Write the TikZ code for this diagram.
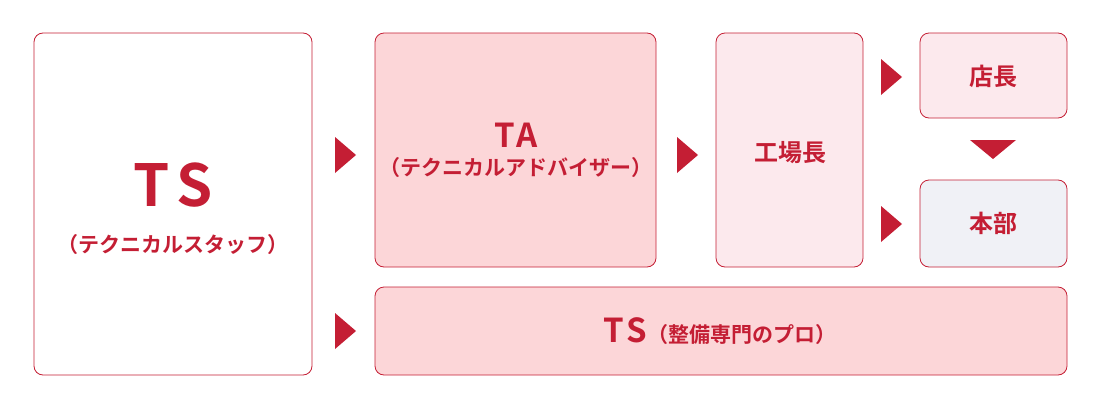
\documentclass[tikz,border=0pt]{standalone}
\usepackage{fontspec}
\newfontfamily\jpfont{Noto Sans CJK JP}[BoldFont={Noto Sans CJK JP Bold}]
\definecolor{tsred}{HTML}{C41E34}
\definecolor{tapink}{HTML}{FCD6D8}
\definecolor{lightpink}{HTML}{FCE9ED}
\definecolor{hqgrey}{HTML}{F0F1F6}
\tikzset{box/.style={draw=tsred, rounded corners=9pt, line width=0.8pt, text=tsred, font=\jpfont\bfseries, align=center}}
\begin{document}
\begin{tikzpicture}[x=1pt,y=-1pt,
			arrowr/.style={fill=tsred},
			label/.style={text=tsred, font=\jpfont\bfseries}]
			\useasboundingbox (0,0) rectangle (1100,407);
			% boxes
			\draw[box, fill=white] (34,33) rectangle (312,375);
			\draw[box, fill=tapink] (375,33) rectangle (656,267);
			\draw[box, fill=lightpink] (716,33) rectangle (863,267);
			\draw[box, fill=lightpink] (920,33) rectangle (1067,118);
			\draw[box, fill=hqgrey] (920,180) rectangle (1067,267);
			\draw[box, fill=tapink] (375,287) rectangle (1067,375);
			% texts
			\node (ts) [label, font=\jpfont\bfseries\fontsize{58}{58}\selectfont] at (173,185) {T\hspace{6pt}S};
			\node (tssub) [label, font=\jpfont\bfseries\fontsize{21}{21}\selectfont] at (173,245) {（テクニカルスタッフ）};
			\node (ta) [label, font=\jpfont\bfseries\fontsize{33}{33}\selectfont] at (516,135) {T\hspace{2pt}A};
			\node (tasub) [label, font=\jpfont\bfseries\fontsize{21}{21}\selectfont] at (516,168) {（テクニカルアドバイザー）};
			\node (plant) [label, font=\jpfont\bfseries\fontsize{24}{24}\selectfont] at (790,153) {工場長};
			\node (store) [label, font=\jpfont\bfseries\fontsize{24}{24}\selectfont] at (993,76) {店長};
			\node (hq) [label, font=\jpfont\bfseries\fontsize{24}{24}\selectfont] at (993,223) {本部};
			\node (pro) [label, font=\jpfont\bfseries\fontsize{21}{21}\selectfont] at (720,331)
				{{\fontsize{33}{33}\selectfont T\hspace{2pt}S}（整備専門のプロ）};
			% arrow heads
			\foreach \x/\y in {335/155, 677/155, 881/77, 881/224, 335/331}
				\fill[arrowr] (\x,\y-18) -- (\x+21,\y) -- (\x,\y+18) -- cycle;
			\fill[arrowr] (970,140) -- (1016,140) -- (993,159) -- cycle;
		\end{tikzpicture}
\end{document}
